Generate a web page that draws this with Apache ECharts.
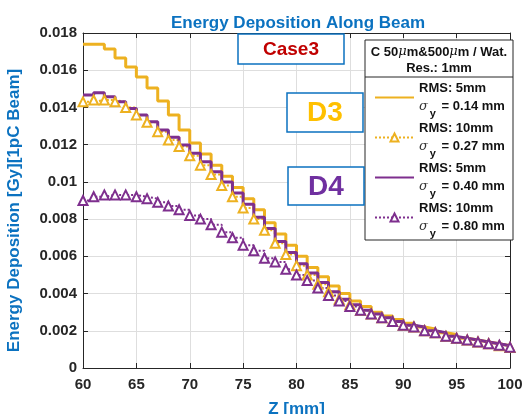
<!DOCTYPE html>
<html>
<head>
<meta charset="utf-8">
<script src="https://cdn.jsdelivr.net/npm/echarts@6/dist/echarts.min.js"></script>
<style>
  html, body { margin: 0; padding: 0; background: #fff; }
  #main { width: 526px; height: 414px; }
</style>
</head>
<body>
<div id="main"></div>
<script>
// Z positions of the 1 mm bins
const zMm = [60, 61, 62, 63, 64, 65, 66, 67, 68, 69, 70,
  71, 72, 73, 74, 75, 76, 77, 78, 79, 80,
  81, 82, 83, 84, 85, 86, 87, 88, 89, 90,
  91, 92, 93, 94, 95, 96, 97, 98, 99, 100];

// D3, RMS 5mm (solid orange)
const d3Rms5 = [0.0174, 0.0174, 0.01714, 0.01666, 0.01617, 0.01563, 0.01504, 0.01435, 0.01359, 0.01279, 0.01209,
  0.0115, 0.0109, 0.0103, 0.0097, 0.0091, 0.0085, 0.0078, 0.0072, 0.0066, 0.0060,
  0.0054, 0.0049, 0.0044, 0.0040, 0.0036, 0.0033, 0.0030, 0.0028, 0.0026, 0.0024,
  0.0022, 0.0021, 0.0019, 0.0018, 0.0016, 0.0015, 0.0014, 0.0013, 0.0012, 0.0012];

// D3, RMS 10mm (dotted orange)
const d3Rms10 = [0.0143, 0.0144, 0.0144, 0.0143, 0.0140, 0.0136, 0.0132, 0.0127, 0.01225, 0.0119, 0.0114,
  0.0109, 0.0104, 0.0098, 0.0092, 0.0086, 0.0080, 0.0074, 0.0067, 0.0061, 0.0055,
  0.0050, 0.0045, 0.0041, 0.0037, 0.0034, 0.0031, 0.0029, 0.0027, 0.0025, 0.0023,
  0.0022, 0.0020, 0.0019, 0.0017, 0.0016, 0.0015, 0.0014, 0.0013, 0.0012, 0.0011];

// D4, RMS 5mm (solid purple)
const d4Rms5 = [0.01467, 0.01479, 0.01458, 0.01431, 0.01395, 0.01359, 0.01323, 0.01279, 0.0124, 0.01198, 0.01154,
  0.01108, 0.01055, 0.0100, 0.0094, 0.0088, 0.0081, 0.0075, 0.0068, 0.0062, 0.0056,
  0.0051, 0.0046, 0.0041, 0.0037, 0.0034, 0.0031, 0.0029, 0.0027, 0.0025, 0.0023,
  0.0022, 0.0020, 0.0019, 0.0017, 0.0016, 0.0015, 0.0014, 0.0013, 0.0012, 0.0011];

// D4, RMS 10mm (dotted purple)
const d4Rms10 = [0.0090, 0.0092, 0.0093, 0.0093, 0.0093, 0.0092, 0.0091, 0.0089, 0.0087, 0.0085, 0.0082,
  0.0080, 0.0077, 0.0073, 0.0070, 0.0066, 0.0063, 0.0059, 0.0057, 0.0053, 0.0050,
  0.0047, 0.0043, 0.0039, 0.0036, 0.0033, 0.0031, 0.0029, 0.0027, 0.0025, 0.0023,
  0.0022, 0.0020, 0.0019, 0.0017, 0.0016, 0.0015, 0.0014, 0.0013, 0.00122, 0.00112];

const seriesNames = ["D3 RMS5", "D3 RMS10", "D4 RMS5", "D4 RMS10"];
const legendRms = ["RMS: 5mm", "RMS: 10mm", "RMS: 5mm", "RMS: 10mm"];
const legendSigma = ["0.14 mm", "0.27 mm", "0.40 mm", "0.80 mm"];

const font = "'Liberation Sans', Arial, sans-serif";
const blue = "#0B72C0";
const axisGray = "#262626";
const gridGray = "#dedede";
const orange = "#EDB120";
const purple = "#7E2F8E";

const toPairs = (vals) => zMm.map((z, i) => [z, vals[i]]);

const solidLine = (name, vals, color) => ({
  name: name,
  type: "line",
  step: "end",
  data: toPairs(vals),
  symbol: "none",
  lineStyle: { color: color, width: 3 },
  itemStyle: { color: color },
});

const dottedLine = (name, vals, color) => ({
  name: name,
  type: "line",
  step: "end",
  data: toPairs(vals),
  symbol: "emptyTriangle",
  symbolSize: 9,
  lineStyle: { color: color, width: 2, type: "dotted" },
  itemStyle: { color: color, borderColor: color, borderWidth: 2 },
});

const chart = echarts.init(document.getElementById("main"));

const tickLabel = {
  fontFamily: font,
  fontWeight: "bold",
  fontSize: 15,
  color: axisGray,
};

const textBox = (x, y, w, h, text, color, size) => [
  {
    type: "rect",
    z: 3,
    shape: { x: x, y: y, width: w, height: h },
    style: { fill: "#fff", stroke: blue, lineWidth: 1.5 },
  },
  {
    type: "text",
    z: 4,
    x: x + w / 2,
    y: y + h / 2 + 1,
    style: {
      text: text,
      fill: color,
      font: "bold " + size + "px 'Liberation Sans', Arial, sans-serif",
      align: "center",
      verticalAlign: "middle",
    },
  },
];

const options = {
  animation: false,
  title: {
    text: "Energy Deposition Along Beam",
    left: 166,
    top: 10,
    textStyle: { fontFamily: font, fontWeight: "bold", fontSize: 17, color: blue },
  },
  grid: { left: 83, right: 16, top: 33, bottom: 46, outerBoundsMode: "none" },
  xAxis: [
    {
      type: "value",
      min: 60,
      max: 100,
      interval: 5,
      position: "bottom",
      name: "Z [mm]",
      nameLocation: "middle",
      nameGap: 33,
      nameTextStyle: { fontFamily: font, fontWeight: "bold", fontSize: 17, color: blue },
      axisLine: { show: true, onZero: false, lineStyle: { color: axisGray } },
      axisTick: { show: true, inside: true, length: 5, lineStyle: { color: axisGray } },
      axisLabel: { ...tickLabel, margin: 9 },
      splitLine: { show: true, lineStyle: { color: gridGray } },
    },
    {
      type: "value",
      min: 60,
      max: 100,
      interval: 5,
      position: "top",
      axisLine: { show: true, onZero: false, lineStyle: { color: axisGray } },
      axisTick: { show: true, inside: true, length: 5, lineStyle: { color: axisGray } },
      axisLabel: { show: false },
      splitLine: { show: false },
    },
  ],
  yAxis: [
    {
      type: "value",
      min: 0,
      max: 0.018,
      interval: 0.002,
      position: "left",
      name: "Energy Deposition [Gy][1pC Beam]",
      nameLocation: "middle",
      nameGap: 60,
      nameTextStyle: { fontFamily: font, fontWeight: "bold", fontSize: 17, color: blue, padding: [0, 20, 0, 0] },
      axisLine: { show: true, onZero: false, lineStyle: { color: axisGray } },
      axisTick: { show: true, inside: true, length: 5, lineStyle: { color: axisGray } },
      axisLabel: { ...tickLabel, margin: 6, formatter: (v) => String(+v.toFixed(3)) },
      splitLine: { show: true, lineStyle: { color: gridGray } },
    },
    {
      type: "value",
      min: 0,
      max: 0.018,
      interval: 0.002,
      position: "right",
      axisLine: { show: true, onZero: false, lineStyle: { color: axisGray } },
      axisTick: { show: true, inside: true, length: 5, lineStyle: { color: axisGray } },
      axisLabel: { show: false },
      splitLine: { show: false },
    },
  ],
  legend: {
    orient: "vertical",
    left: 369,
    top: 77,
    z: 6,
    itemWidth: 39,
    itemHeight: 10,
    itemGap: 3,
    selectedMode: false,
    // solid entries: hide the marker the legend adds by default
    data: seriesNames.map((name, i) => (i % 2 === 0 ? { name: name, itemStyle: { opacity: 0 } } : { name: name })),
    formatter: (name) => {
      const i = seriesNames.indexOf(name);
      return `{a|${legendRms[i]}}\n{s|σ}{y|y}{a| = ${legendSigma[i]}}`;
    },
    textStyle: {
      rich: {
        a: { fontFamily: font, fontWeight: "bold", fontSize: 13, color: "#111", lineHeight: 18 },
        s: { fontFamily: "'DejaVu Serif', serif", fontStyle: "italic", fontSize: 13, color: "#333", lineHeight: 18 },
        y: { fontFamily: font, fontWeight: "bold", fontSize: 11, color: "#111", lineHeight: 18, padding: [14, 2, 0, 2] },
      },
    },
  },
  graphic: [
    {
      type: "rect",
      z: 3,
      shape: { x: 365, y: 40, width: 148, height: 200 },
      style: { fill: "#fff", stroke: axisGray, lineWidth: 1 },
    },
    {
      type: "line",
      z: 4,
      shape: { x1: 365, y1: 77, x2: 513, y2: 77 },
      style: { stroke: axisGray, lineWidth: 1 },
    },
    {
      type: "text",
      z: 4,
      x: 439,
      y: 52,
      style: {
        text: "{a|C 50}{m|μ}{a|m&500}{m|μ}{a|m / Wat.}",
        align: "center",
        verticalAlign: "middle",
        rich: {
          a: { fontFamily: font, fontWeight: "bold", fontSize: 13, fill: "#111" },
          m: { fontFamily: "'DejaVu Serif', serif", fontStyle: "italic", fontSize: 13, fill: "#111" },
        },
      },
    },
    {
      type: "text",
      z: 4,
      x: 439,
      y: 68,
      style: {
        text: "Res.: 1mm",
        align: "center",
        verticalAlign: "middle",
        font: "bold 13px " + font,
        fill: "#111",
      },
    },
    ...textBox(238, 34, 106, 30, "Case3", "#C00000", 19),
    ...textBox(287, 93, 76, 39, "D3", "#FFC000", 28),
    ...textBox(288, 167, 76, 38, "D4", "#7030A0", 28),
  ],
  series: [
    solidLine(seriesNames[0], d3Rms5, orange),
    dottedLine(seriesNames[1], d3Rms10, orange),
    solidLine(seriesNames[2], d4Rms5, purple),
    dottedLine(seriesNames[3], d4Rms10, purple),
  ],
};

chart.setOption(options);
</script>
</body>
</html>
